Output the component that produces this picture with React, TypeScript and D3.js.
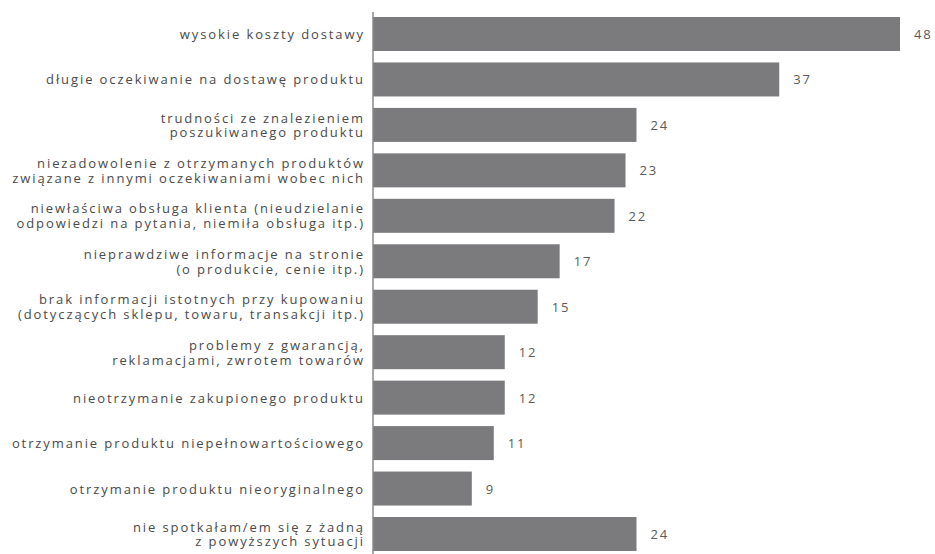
import React from "react";
import * as d3 from "d3";

const categories: string[] = [
  "wysokie koszty dostawy",
  "długie oczekiwanie na dostawę produktu",
  "trudności ze znalezieniem\nposzukiwanego produktu",
  "niezadowolenie z otrzymanych produktów\nzwiązane z innymi oczekiwaniami wobec nich",
  "niewłaściwa obsługa klienta (nieudzielanie\nodpowiedzi na pytania, niemiła obsługa itp.)",
  "nieprawdziwe informacje na stronie\n(o produkcie, cenie itp.)",
  "brak informacji istotnych przy kupowaniu\n(dotyczących sklepu, towaru, transakcji itp.)",
  "problemy z gwarancją,\nreklamacjami, zwrotem towarów",
  "nieotrzymanie zakupionego produktu",
  "otrzymanie produktu niepełnowartościowego",
  "otrzymanie produktu nieoryginalnego",
  "nie spotkałam/em się z żadną\nz powyższych sytuacji",
];

const values: number[] = [48, 37, 24, 23, 22, 17, 15, 12, 12, 11, 9, 24];

const W = 935;
const H = 554;
const AXIS_X = 373;
const FONT = "'Open Sans', 'Noto Sans', sans-serif";
const TEXT_COLOR = "#4a4a4a";
const VALUE_COLOR = "#5a5a5a";
const BAR_COLOR = "#7b7b7d";
const FS = 13;
const LS = 1.9;

export default function App() {
  const x = d3.scaleLinear().domain([0, 48]).range([AXIS_X, 900]);
  const y = d3
    .scaleBand<string>()
    .domain(categories)
    .range([17, 551])
    .paddingInner(0.252)
    .paddingOuter(0);
  const bw = y.bandwidth();
  const lineH = 14.8;

  return (
    <svg
      width={W}
      height={H}
      style={{ position: "absolute", left: 0, top: 0, background: "#fff" }}
      fontFamily={FONT}
    >
      {categories.map((c, i) => {
        const y0 = y(c) as number;
        const cy = y0 + bw / 2;
        const lines = c.split("\n");
        const n = lines.length;
        return (
          <g key={c}>
            <rect
              x={x(0)}
              y={y0}
              width={x(values[i]) - x(0)}
              height={bw}
              fill={BAR_COLOR}
            />
            {lines.map((l, k) => (
              <text
                key={k}
                x={AXIS_X - 10 + LS}
                y={cy + 5 + (k - (n - 1) / 2) * lineH}
                textAnchor="end"
                fontSize={FS}
                letterSpacing={LS}
                fill={TEXT_COLOR}
              >
                {l}
              </text>
            ))}
            <text
              x={x(values[i]) + 14}
              y={cy + 5}
              fontSize={FS}
              letterSpacing={LS}
              fill={VALUE_COLOR}
            >
              {values[i]}
            </text>
          </g>
        );
      })}
      <line x1={AXIS_X} x2={AXIS_X} y1={12} y2={H} stroke="#8a8a8a" strokeWidth={1.5} />
    </svg>
  );
}
